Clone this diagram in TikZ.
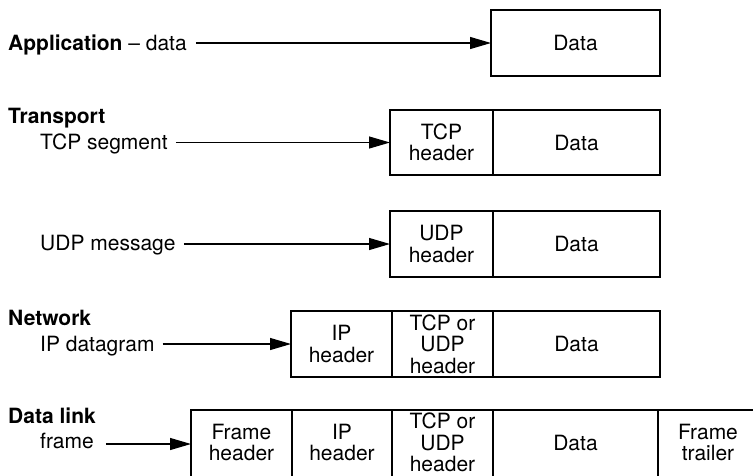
\documentclass[tikz,border=0pt]{standalone}
\usepackage{fontspec}
\setmainfont{TeX Gyre Heros}
\usetikzlibrary{arrows.meta,fit}
\begin{document}
\begin{tikzpicture}[x=1pt,y=-1pt,
  cell/.style={draw, line width=1.1pt, inner sep=0pt, outer sep=0pt, align=center,
    font=\fontsize{21}{21.5}\selectfont},
  dlcell/.style={cell, minimum height=68pt, text depth=3pt},
  outer/.style={draw, line width=2.6pt, inner sep=0pt, outer sep=0pt},
  lbl/.style={anchor=base west, inner sep=0pt, font=\fontsize{21}{24}\selectfont},
  arr/.style={line width=1.2pt, -{Triangle[length=21pt,width=12pt]}, shorten <=8pt},
]
\useasboundingbox (0,0) rectangle (753,475);
\clip (0,0) rectangle (753,475);

% Application
\node[cell, minimum width=169pt, minimum height=66pt] (a1) at (575.5,43) {Data};
\node[outer, fit=(a1)] (A) {};

% Transport TCP
\node[cell, minimum width=103pt, minimum height=65pt] (b1) at (441.5,142.5) {TCP\\header};
\node[cell, minimum width=167pt, minimum height=65pt] (b2) at (576.5,142.5) {Data};
\node[outer, fit=(b1)(b2)] (B) {};

% Transport UDP
\node[cell, minimum width=103pt, minimum height=66pt] (c1) at (441.5,244) {UDP\\header};
\node[cell, minimum width=167pt, minimum height=66pt] (c2) at (576.5,244) {Data};
\node[outer, fit=(c1)(c2)] (C) {};

% Network
\node[cell, minimum width=101pt, minimum height=66pt] (d1) at (341.5,344) {IP\\header};
\node[cell, minimum width=101pt, minimum height=66pt] (d2) at (442.5,344) {TCP or\\UDP\\header};
\node[cell, minimum width=167pt, minimum height=66pt] (d3) at (576.5,344) {Data};
\node[outer, fit=(d1)(d3)] (D) {};

% Data link
\node[dlcell, minimum width=101pt] (e1) at (241.5,444) {Frame\\header};
\node[dlcell, minimum width=100pt] (e2) at (342,444) {IP\\header};
\node[dlcell, minimum width=101pt] (e3) at (442.5,444) {TCP or\\UDP\\header};
\node[dlcell, minimum width=165pt] (e4) at (575.5,444) {Data};
\node[dlcell, minimum width=100pt] (e5) at (708,444) {Frame\\trailer};
\node[outer, fit=(e1)(e5)] (E) {};

% Labels
\node[lbl] (l1) at (8,50) {\textbf{Application} -- data};
\node[lbl] (t0) at (8,123) {\textbf{Transport}};
\node[lbl] (l2) at (40,149) {TCP segment};
\node[lbl] (l3) at (40,250) {UDP message};
\node[lbl] (n0) at (8,325) {\textbf{Network}};
\node[lbl] (l4) at (40,351) {IP datagram};
\node[lbl] (k0) at (8,423) {\textbf{Data link}};
\node[lbl] (l5) at (40,448) {frame};

% Arrows
\draw[arr, shorten <=9pt] (l1.east |- a1.west) -- (A.west);
\draw[arr] (l2.east |- b1.west) -- (B.west);
\draw[arr] (l3.east |- c1.west) -- (C.west);
\draw[arr] (l4.east |- d1.west) -- (D.west);
\draw[arr, shorten <=12pt] (l5.east |- e1.west) -- (E.west);
\end{tikzpicture}
\end{document}
